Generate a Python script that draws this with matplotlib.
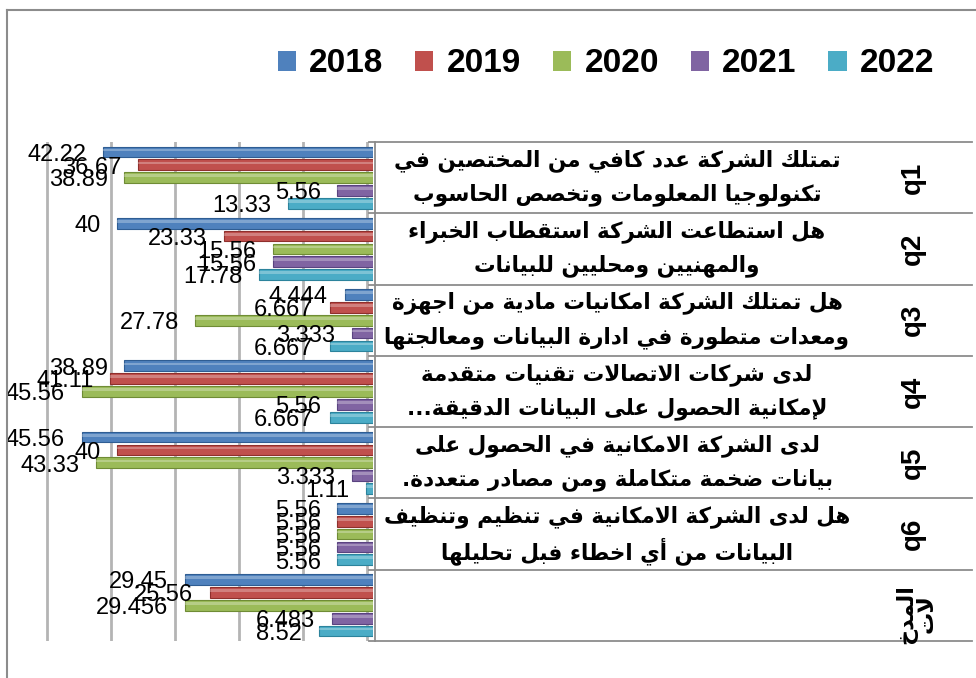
import matplotlib

matplotlib.use("Agg")
import matplotlib.pyplot as plt
import matplotlib.transforms as mtransforms
from matplotlib.lines import Line2D
from matplotlib.patches import Patch


years = ["2018", "2019", "2020", "2021", "2022"]
colors = ["#4F81BD", "#C0504D", "#9BBB59", "#8064A2", "#4BACC6"]
edge_colors = ["#2f5d93", "#8f2f2c", "#6f8c35", "#5a4380", "#2c839c"]

codes = ["q1", "q2", "q3", "q4", "q5", "q6", ""]
questions = [
    ["تمتلك الشركة عدد كافي من المختصين في", "تكنولوجيا المعلومات وتخصص الحاسوب"],
    ["هل استطاعت الشركة استقطاب الخبراء", "والمهنيين ومحليين للبيانات"],
    ["هل تمتلك الشركة امكانيات مادية من اجهزة", "ومعدات متطورة في ادارة البيانات ومعالجتها"],
    ["لدى شركات الاتصالات تقنيات متقدمة", "لإمكانية الحصول على البيانات الدقيقة..."],
    ["لدى الشركة الامكانية في الحصول على", "بيانات ضخمة متكاملة ومن مصادر متعددة."],
    ["هل لدى الشركة الامكانية في تنظيم وتنظيف", "البيانات من أي اخطاء فبل تحليلها"],
    [],
]
last_label = ["المدخ", "لات"]

values_2018 = [42.22, 40, 4.444, 38.89, 45.56, 5.56, 29.45]
values_2019 = [36.67, 23.33, 6.667, 41.11, 40, 5.56, 25.56]
values_2020 = [38.89, 15.56, 27.78, 45.56, 43.33, 5.56, 29.456]
values_2021 = [5.56, 15.56, 3.333, 5.56, 3.333, 5.56, 6.483]
values_2022 = [13.33, 17.78, 6.667, 6.667, 1.11, 5.56, 8.52]
series = [values_2018, values_2019, values_2020, values_2021, values_2022]

# --- minimal arabic shaping (matplotlib has no bidi / joining support) ---
FORMS = {
    "ء": "\ufe80",
    "آ": "\ufe81\ufe82", "أ": "\ufe83\ufe84", "ؤ": "\ufe85\ufe86", "إ": "\ufe87\ufe88",
    "ئ": "\ufe89\ufe8a\ufe8b\ufe8c", "ا": "\ufe8d\ufe8e", "ب": "\ufe8f\ufe90\ufe91\ufe92",
    "ة": "\ufe93\ufe94", "ت": "\ufe95\ufe96\ufe97\ufe98", "ث": "\ufe99\ufe9a\ufe9b\ufe9c",
    "ج": "\ufe9d\ufe9e\ufe9f\ufea0", "ح": "\ufea1\ufea2\ufea3\ufea4", "خ": "\ufea5\ufea6\ufea7\ufea8",
    "د": "\ufea9\ufeaa", "ذ": "\ufeab\ufeac", "ر": "\ufead\ufeae", "ز": "\ufeaf\ufeb0",
    "س": "\ufeb1\ufeb2\ufeb3\ufeb4", "ش": "\ufeb5\ufeb6\ufeb7\ufeb8", "ص": "\ufeb9\ufeba\ufebb\ufebc",
    "ض": "\ufebd\ufebe\ufebf\ufec0", "ط": "\ufec1\ufec2\ufec3\ufec4", "ظ": "\ufec5\ufec6\ufec7\ufec8",
    "ع": "\ufec9\ufeca\ufecb\ufecc", "غ": "\ufecd\ufece\ufecf\ufed0", "ف": "\ufed1\ufed2\ufed3\ufed4",
    "ق": "\ufed5\ufed6\ufed7\ufed8", "ك": "\ufed9\ufeda\ufedb\ufedc", "ل": "\ufedd\ufede\ufedf\ufee0",
    "م": "\ufee1\ufee2\ufee3\ufee4", "ن": "\ufee5\ufee6\ufee7\ufee8", "ه": "\ufee9\ufeea\ufeeb\ufeec",
    "و": "\ufeed\ufeee", "ى": "\ufeef\ufef0", "ي": "\ufef1\ufef2\ufef3\ufef4",
    "لآ": "\ufef5\ufef6", "لأ": "\ufef7\ufef8", "لإ": "\ufef9\ufefa", "لا": "\ufefb\ufefc",
}


def shape_arabic(text: str) -> str:
    units = []
    i = 0
    while i < len(text):
        pair = text[i:i + 2]
        if pair in FORMS and len(pair) == 2:
            units.append(pair)
            i += 2
        else:
            units.append(text[i])
            i += 1
    out = []
    for k, unit in enumerate(units):
        forms = FORMS.get(unit)
        if forms is None:
            out.append(unit)
            continue
        prev = units[k - 1] if k > 0 else None
        nxt = units[k + 1] if k + 1 < len(units) else None
        joins_prev = prev is not None and len(FORMS.get(prev, "")) == 4
        joins_next = len(forms) == 4 and nxt is not None and len(FORMS.get(nxt, "")) >= 2
        if len(forms) == 1:
            out.append(forms[0])
        elif joins_prev and joins_next:
            out.append(forms[3])
        elif joins_next:
            out.append(forms[2])
        elif joins_prev:
            out.append(forms[1])
        else:
            out.append(forms[0])
    return "".join(out)[::-1]


W, H = 976, 678
fig = plt.figure(figsize=(W / 100, H / 100), dpi=100)

# bar area (reversed value axis, bars grow leftwards)
ax = fig.add_axes([20 / W, 1 - 641 / H, 353 / W, 499 / H])
n_cat = len(codes)
slot = 0.18
bar_h = 0.15
for j, vals in enumerate(series):
    ys = [i + (j - 2) * slot for i in range(n_cat)]
    ax.barh(ys, vals, height=bar_h, color=colors[j], edgecolor=edge_colors[j], linewidth=0.8, zorder=3)
    # light highlight to mimic the 3d cylinder look
    ax.barh([y - bar_h * 0.18 for y in ys], vals, height=bar_h * 0.25, color="white", alpha=0.28,
            linewidth=0, zorder=4)
    for y, v in zip(ys, vals):
        ax.annotate(f"{v:g}", (v, y), xytext=(-12, -2), textcoords="offset points",
                    ha="right", va="center", fontsize=17, family="Liberation Sans", zorder=5)

for g in range(0, 60, 10):
    ax.axvline(g + 1, color="#b4b4b4", linewidth=2.0, zorder=1)
ax.set_xlim(55.2, 0)
ax.set_ylim(n_cat - 0.5, -0.5)
ax.set_xticks([])
ax.set_yticks([])
for side in ["top", "bottom", "left", "right"]:
    ax.spines[side].set_visible(False)
ax.patch.set_alpha(0)

# table at the right: row labels and separators
trans = mtransforms.blended_transform_factory(fig.transFigure, ax.transData)
for i in range(n_cat + 1):
    fig.add_artist(Line2D([375 / W, 972 / W], [i - 0.5, i - 0.5], transform=trans,
                          color="#8c8c8c", linewidth=1.3))
    fig.add_artist(Line2D([369 / W, 375 / W], [i - 0.5, i - 0.5], transform=trans,
                          color="#8c8c8c", linewidth=1.3))
fig.add_artist(Line2D([375 / W, 375 / W], [-0.5, n_cat - 0.5], transform=trans,
                      color="#8c8c8c", linewidth=1.3))

for i, (code, lines) in enumerate(zip(codes, questions)):
    if code:
        fig.text(913 / W, i, code, transform=trans, rotation=90, ha="center", va="center",
                 fontsize=20, fontweight="bold", family="Liberation Sans")
    for k, line in enumerate(lines):
        fig.text(617 / W, i + (k - 0.5) * 0.48, shape_arabic(line), transform=trans,
                 ha="center", va="center", fontsize=15.5, fontweight="bold", family="DejaVu Sans")
fig.text(916 / W, n_cat - 1 + 0.12, "\n".join(shape_arabic(s) for s in last_label), transform=trans,
         rotation=90, ha="center", va="center", fontsize=16, fontweight="bold", family="DejaVu Sans",
         linespacing=1.0)

# chart area border (cut off at right and bottom)
fig.add_artist(Line2D([7 / W, 7 / W], [0, 1 - 10 / H], color="#8c8c8c", linewidth=1.5))
fig.add_artist(Line2D([7 / W, 1], [1 - 10 / H, 1 - 10 / H], color="#8c8c8c", linewidth=1.5))

handles = [Patch(facecolor=c, edgecolor="none", label=y) for c, y in zip(colors, years)]
fig.legend(handles=handles, loc="center", bbox_to_anchor=(606 / W, 1 - 64 / H), ncol=5,
           frameon=False, handlelength=0.55, handleheight=0.55, handletextpad=0.4,
           columnspacing=0.95, prop={"family": "Liberation Sans", "weight": "bold", "size": 24})

fig.savefig("out.png", dpi=100)
